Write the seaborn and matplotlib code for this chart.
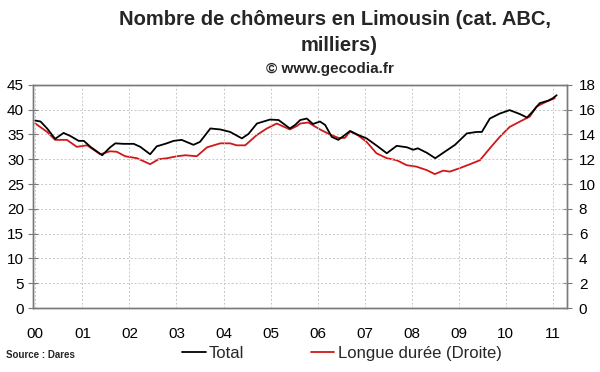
import matplotlib
matplotlib.use("Agg")
import matplotlib.pyplot as plt
import seaborn as sns
import pandas as pd
from matplotlib.lines import Line2D

# ---- data ----
total_t = [0.00, 0.11, 0.25, 0.42, 0.60, 0.74, 0.92, 1.03, 1.17, 1.42, 1.59, 1.70, 1.87,
           2.09, 2.23, 2.44, 2.58, 2.76, 2.94, 3.11, 3.36, 3.50, 3.72, 3.93, 4.14, 4.39,
           4.53, 4.71, 4.99, 5.17, 5.41, 5.52, 5.63, 5.77, 5.90, 6.05, 6.16, 6.30, 6.44,
           6.58, 6.69, 6.86, 7.04, 7.26, 7.47, 7.68, 7.90, 8.03, 8.13, 8.32, 8.50, 8.67,
           8.92, 9.17, 9.38, 9.49, 9.66, 9.87, 10.08, 10.30, 10.45, 10.57, 10.72, 10.90,
           11.00, 11.08]
total_v = [37.8, 37.6, 36.2, 34.1, 35.3, 34.7, 33.7, 33.7, 32.5, 30.8, 32.4, 33.2, 33.1,
           33.1, 32.5, 31.0, 32.6, 33.1, 33.7, 33.9, 32.9, 33.5, 36.2, 36.0, 35.5, 34.2,
           35.1, 37.2, 38.0, 37.9, 36.2, 36.9, 37.9, 38.2, 37.1, 37.6, 36.9, 34.5, 33.9,
           34.9, 35.7, 34.9, 34.2, 32.7, 31.2, 32.7, 32.4, 31.9, 32.2, 31.3, 30.2, 31.3,
           32.9, 35.2, 35.5, 35.5, 38.2, 39.2, 39.9, 39.1, 38.4, 39.6, 41.3, 41.8,
           42.3, 42.9]

longue_t = [0.00, 0.25, 0.42, 0.67, 0.88, 1.10, 1.38, 1.59, 1.73, 1.91, 2.16, 2.44, 2.62,
            2.80, 3.01, 3.19, 3.43, 3.65, 3.93, 4.14, 4.28, 4.46, 4.71, 4.92, 5.13, 5.41,
            5.56, 5.63, 5.80, 6.05, 6.26, 6.44, 6.58, 6.69, 6.86, 7.04, 7.25, 7.47, 7.68,
            7.89, 8.10, 8.32, 8.49, 8.67, 8.81, 9.02, 9.24, 9.45, 9.66, 9.87, 10.08, 10.30,
            10.51, 10.65, 10.86, 11.04]
longue_v = [14.88, 14.20, 13.56, 13.56, 13.00, 13.12, 12.40, 12.64, 12.60, 12.24, 12.08,
            11.60, 12.00, 12.08, 12.24, 12.32, 12.24, 12.96, 13.28, 13.28, 13.12, 13.12,
            13.96, 14.48, 14.88, 14.40, 14.68, 14.88, 14.96, 14.40, 14.00, 13.72, 13.72,
            14.24, 13.92, 13.40, 12.48, 12.08, 11.92, 11.52, 11.40, 11.12, 10.80, 11.08,
            11.00, 11.28, 11.60, 11.92, 12.88, 13.80, 14.60, 15.04, 15.44, 16.24, 16.64,
            16.92]

year_ticks = list(range(12))
year_labels = ["00", "01", "02", "03", "04", "05", "06", "07", "08", "09", "10", "11"]
left_ticks = list(range(0, 50, 5))
right_ticks = list(range(0, 20, 2))

df_total = pd.DataFrame({"t": total_t, "v": total_v})
df_long = pd.DataFrame({"t": longue_t, "v": longue_v})

sns.set_style("white")
plt.rcParams["font.family"] = ["Liberation Sans", "DejaVu Sans"]

fig = plt.figure(figsize=(6, 3.72), dpi=100)
ax = fig.add_axes([0.055, 0.172, 0.89, 0.6])
ax2 = ax.twinx()

red = "#d01818"
sns.lineplot(data=df_total, x="t", y="v", ax=ax, color="black", linewidth=1.3, zorder=3)
sns.lineplot(data=df_long, x="t", y="v", ax=ax2, color=red, linewidth=1.3, zorder=3)
ax.set_zorder(ax2.get_zorder() + 1)
ax.patch.set_visible(False)

ax.set_xlim(-0.05, 11.3)
ax.set_ylim(0, 45)
ax2.set_ylim(0, 18)
ax.set_xticks(year_ticks)
ax.set_xticklabels(year_labels)
ax.set_yticks(left_ticks)
ax2.set_yticks(right_ticks)
ax.set_xlabel("")
ax.set_ylabel("")
ax2.set_ylabel("")

ax.grid(True, color="#c8c8c8", linestyle=(0, (2, 2)), linewidth=0.7)
ax2.grid(False)

spine_c = "#7a7a7a"
for a in (ax, ax2):
    for s in a.spines.values():
        s.set_color(spine_c)
        s.set_linewidth(1.0)
        s.set_visible(True)
ax.tick_params(axis="both", direction="inout", length=7, width=0.8, color=spine_c,
               labelsize=11, labelcolor="black", pad=4)
ax.tick_params(axis="y", pad=3)
ax.tick_params(axis="x", pad=10)
ax2.tick_params(axis="y", direction="inout", length=7, width=0.8, color=spine_c,
                labelsize=11, labelcolor="black", pad=5)

fig.text(0.558, 0.948, "Nombre de chômeurs en Limousin (cat. ABC,", ha="center", va="center",
         fontsize=14.5, fontweight="bold")
fig.text(0.565, 0.877, "milliers)", ha="center", va="center", fontsize=14.5, fontweight="bold")
fig.text(0.55, 0.815, "© www.gecodia.fr", ha="center", va="center", fontsize=11,
         fontweight="bold")
fig.text(0.01, 0.045, "Source : Dares", ha="left", va="center", fontsize=7,
         fontweight="bold")

handles = [Line2D([], [], color="black", linewidth=1.3),
           Line2D([], [], color=red, linewidth=1.3)]
fig.legend(handles, ["Total", "Longue durée (Droite)"], loc="center",
           bbox_to_anchor=(0.57, 0.05), ncol=2, frameon=False, fontsize=12,
           handlelength=1.4, handletextpad=0.2, columnspacing=4.0)

fig.savefig("out.png", dpi=100, facecolor="white")
